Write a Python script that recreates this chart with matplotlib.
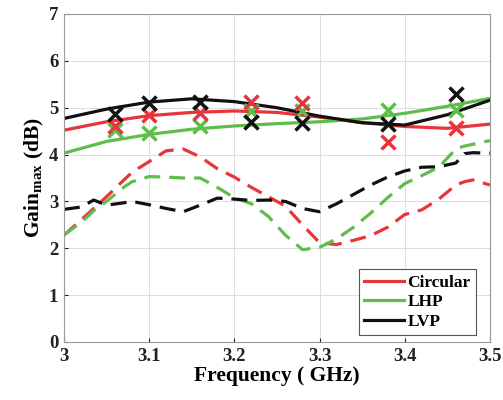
import numpy as np
import matplotlib
matplotlib.use('Agg')
import matplotlib.pyplot as plt
from matplotlib.lines import Line2D

# Simulated (solid) curves
f_sim = [3.0, 3.05, 3.1, 3.15, 3.2, 3.25, 3.3, 3.35, 3.4, 3.45, 3.5]
circ_sim = [4.52, 4.70, 4.83, 4.90, 4.93, 4.90, 4.80, 4.68, 4.60, 4.56, 4.65]
lhp_sim = [4.03, 4.28, 4.43, 4.54, 4.61, 4.66, 4.70, 4.76, 4.88, 5.03, 5.20]
lvp_sim = [4.77, 4.97, 5.12, 5.19, 5.13, 5.00, 4.82, 4.68, 4.63, 4.85, 5.16]

# Dashed curves
f_d = [3.0, 3.02, 3.035, 3.05, 3.07, 3.08, 3.1, 3.12, 3.14, 3.16, 3.18, 3.2, 3.22,
       3.24, 3.26, 3.28, 3.3, 3.32, 3.34, 3.36, 3.38, 3.4, 3.42, 3.44, 3.46, 3.47,
       3.48, 3.5]
circ_d = [2.28, 2.60, 2.85, 3.10, 3.45, 3.62, 3.85, 4.08, 4.12, 3.95, 3.70, 3.52, 3.30,
          3.10, 2.90, 2.50, 2.12, 2.08, 2.17, 2.27, 2.45, 2.72, 2.82, 3.05, 3.35, 3.42,
          3.46, 3.35]
lhp_d = [2.28, 2.55, 2.80, 3.00, 3.30, 3.42, 3.53, 3.52, 3.50, 3.50, 3.30, 3.08, 2.95,
         2.68, 2.28, 1.97, 2.02, 2.20, 2.45, 2.75, 3.08, 3.38, 3.55, 3.73, 4.12, 4.18,
         4.22, 4.30]
lvp_d = [2.83, 2.88, 3.03, 2.92, 2.97, 3.00, 2.93, 2.85, 2.78, 2.92, 3.07, 3.05, 3.02,
         3.03, 3.00, 2.85, 2.78, 2.95, 3.15, 3.35, 3.52, 3.65, 3.73, 3.74, 3.82, 4.02,
         4.04, 4.03]

# Measured points (x markers)
f_meas = [3.06, 3.1, 3.16, 3.22, 3.28, 3.38, 3.46]
circ_meas = [4.60, 4.84, 4.89, 5.12, 5.10, 4.27, 4.56]
lhp_meas = [4.52, 4.47, 4.62, 4.93, 4.92, 4.96, 4.95]
lvp_meas = [4.86, 5.09, 5.12, 4.70, 4.67, 4.65, 5.30]

red = '#e8353b'
green = '#5fbd4c'
black = '#111111'

plt.rcParams['font.family'] = 'Liberation Serif'
plt.rcParams['font.weight'] = 'bold'
plt.rcParams['mathtext.fontset'] = 'custom'
plt.rcParams['mathtext.rm'] = 'Liberation Serif'
plt.rcParams['mathtext.bf'] = 'Liberation Serif:bold'

fig = plt.figure(figsize=(5.03, 4.0), dpi=100)
ax = fig.add_axes([0.127, 0.145, 0.847, 0.82])

lw = 2.3
dash = (0, (5, 2.8))
ax.plot(f_d, circ_d, color=red, lw=lw, ls=dash)
ax.plot(f_d, lhp_d, color=green, lw=lw, ls=dash)
ax.plot(f_d, lvp_d, color=black, lw=lw, ls=dash)

ax.plot(f_sim, circ_sim, color=red, lw=lw)
ax.plot(f_sim, lhp_sim, color=green, lw=lw)
ax.plot(f_sim, lvp_sim, color=black, lw=lw)

ms = 10
mew = 2.5
ax.plot(f_meas, lhp_meas, ls='none', marker='x', ms=ms, mew=mew, color=green)
ax.plot(f_meas, circ_meas, ls='none', marker='x', ms=ms, mew=mew, color=red)
ax.plot(f_meas, lvp_meas, ls='none', marker='x', ms=ms, mew=mew, color=black)

ax.set_xlim(3, 3.5)
ax.set_ylim(0, 7)
ax.set_xticks([3, 3.1, 3.2, 3.3, 3.4, 3.5])
ax.set_xticklabels(['3', '3.1', '3.2', '3.3', '3.4', '3.5'])
ax.set_yticks(range(8))
ax.tick_params(direction='in', length=3, labelsize=13.5, colors='#222222', pad=4)
for sp in ax.spines.values():
    sp.set_color('#999999')
    sp.set_linewidth(0.8)
ax.grid(True, color='#dddddd', lw=0.7)
ax.set_axisbelow(True)

ax.set_xlabel('Frequency ( GHz)', fontsize=15.5, fontweight='bold', labelpad=1)
ax.set_ylabel(r'Gain$_{\mathbf{max}}$ (dB)', fontsize=15.5, fontweight='bold', labelpad=2)

handles = [Line2D([], [], color=red, lw=lw),
           Line2D([], [], color=green, lw=lw),
           Line2D([], [], color=black, lw=lw)]
leg = ax.legend(handles, ['Circular', 'LHP', 'LVP'], loc='lower right',
                bbox_to_anchor=(0.967, 0.021), borderaxespad=0, fancybox=False,
                framealpha=1, edgecolor='#555555',
                prop={'weight': 'bold', 'size': 12.5},
                handlelength=2.3, handletextpad=0.2, labelspacing=0.2,
                borderpad=0.3)
leg.get_frame().set_linewidth(0.8)

fig.savefig('out.png', dpi=100)
